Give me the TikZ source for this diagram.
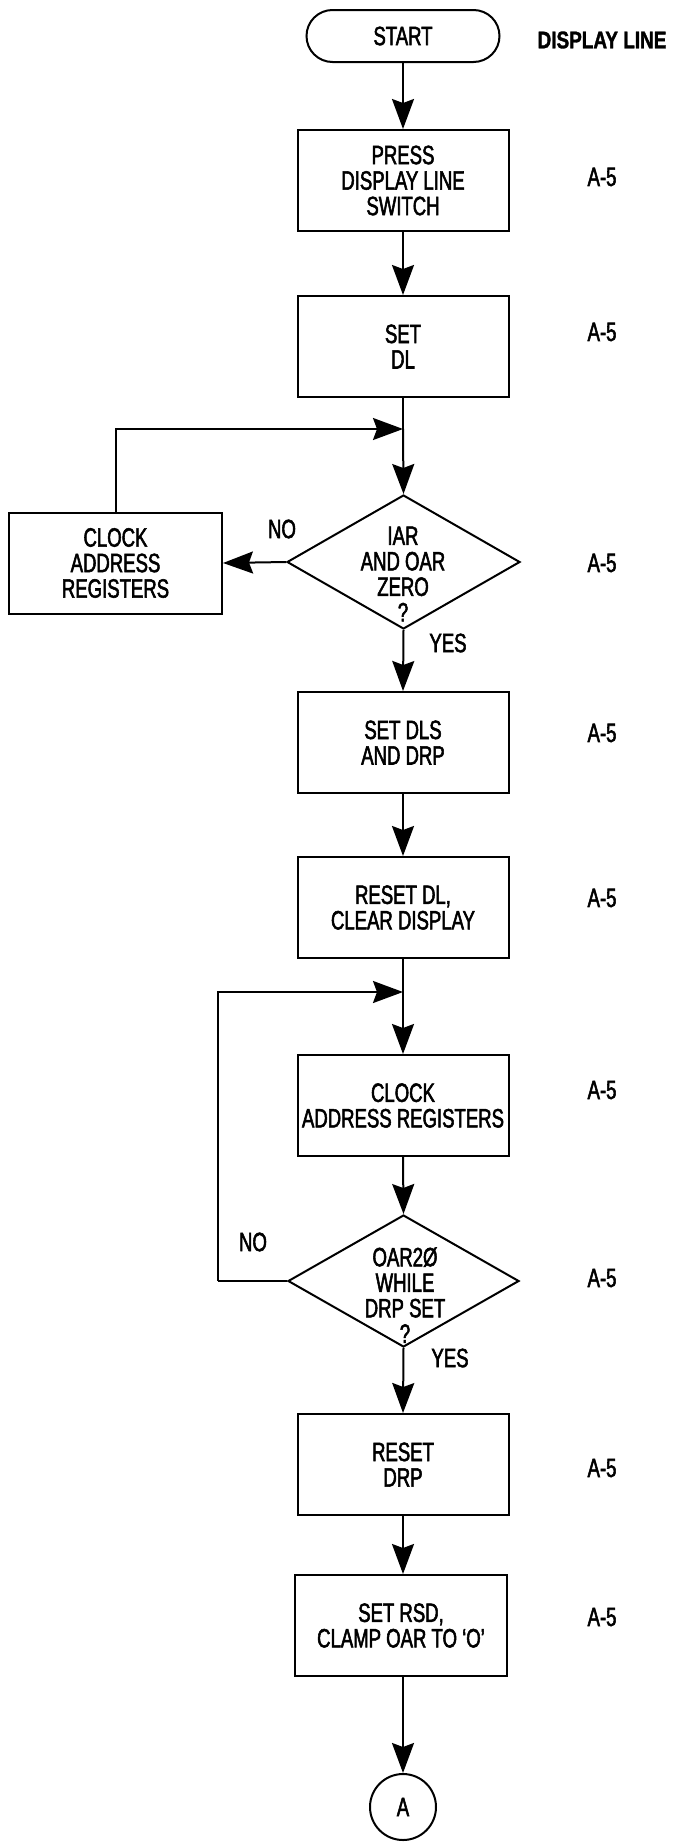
\documentclass[tikz,border=0pt]{standalone}
\usepackage{fontspec}
\setmainfont{Liberation Sans}[FakeStretch=0.7,FakeBold=2]
\newfontfamily\headfont{Liberation Sans}[FakeStretch=0.79,FakeBold=1.5]
\usetikzlibrary{arrows.meta,shapes.geometric,shapes.misc}
\begin{document}
\begin{tikzpicture}[x=1pt,y=-1pt,line width=2pt,
  every node/.style={font=\fontsize{26.5}{25.5}\selectfont,align=center,inner sep=0pt},
  proc/.style={draw,rectangle,minimum width=211pt,minimum height=101pt},
  dec/.style={draw,diamond,minimum width=233pt,minimum height=134pt},
  term/.style={draw,rounded rectangle,minimum width=193pt,minimum height=52pt},
  conn/.style={draw,circle,minimum size=66pt},
  head/.style={font=\headfont\bfseries\fontsize{24}{24}\selectfont},
  flow/.style={-{Stealth[length=30pt,width=22pt,inset=4pt]},line width=2pt},
  plain/.style={line width=2pt}]
\useasboundingbox (0,0) rectangle (674,1842);

\node[term] (start) at (403,36) {START};
\node[head] (title) at (602,40) {DISPLAY LINE};

\node[proc] (press) at (403,180.5) {PRESS\\DISPLAY LINE\\SWITCH};
\node[proc] (setdl) at (403,346.5) {SET\\DL};
\coordinate (j1) at (403,429);
\node[dec] (d1) at (403.5,562) {};
\node (d1t) at (403,574) {IAR\\AND OAR\\ZERO\\?};
\node[proc,minimum width=213pt] (clk1) at (115.5,563) {CLOCK\\ADDRESS\\REGISTERS};
\node[proc] (setdls) at (403,742.5) {SET DLS\\AND DRP};
\node[proc] (rstdl) at (403,907.5) {RESET DL,\\CLEAR DISPLAY};
\coordinate (j2) at (403,992);
\node[proc] (clk2) at (403,1105.5) {CLOCK\\ADDRESS REGISTERS};
\node[dec,minimum width=231pt,minimum height=132pt] (d2) at (403.5,1281) {};
\node (d2t) at (405,1295) {OAR2Ø\\WHILE\\DRP SET\\?};
\coordinate (l2) at (218,1281);
\node[proc] (rstdrp) at (403,1464.5) {RESET\\DRP};
\node[proc,minimum width=212pt] (setrsd) at (401,1625.5) {SET RSD,\\CLAMP OAR TO `O'};
\node[conn] (a) at (403,1807) {A};

% labels
\node (no1) at (282,529) {NO};
\node (yes1) at (448,643) {YES};
\node (no2) at (253,1242) {NO};
\node (yes2) at (450,1358) {YES};
\foreach \yy [count=\i] in {177,332,563,733,898,1090,1278,1468,1617}
  \node (ref\i) at (602,\yy) {A-5};

% connectors
\draw[flow] (start.south) -- (press.north);
\draw[flow] (press.south) -- (setdl.north);
\draw[plain] (setdl.south) -- (j1);
\draw[flow] (j1) -- (d1.north);
\draw[flow] (d1.west) -- (clk1.east);
\draw[flow] (clk1.north) |- (j1);
\draw[flow] (d1.south) -- (setdls.north);
\draw[flow] (setdls.south) -- (rstdl.north);
\draw[plain] (rstdl.south) -- (j2);
\draw[flow] (j2) -- (clk2.north);
\draw[flow] (clk2.south) -- (d2.north);
\draw[plain] (d2.west) -- (l2);
\draw[flow] (l2) |- (j2);
\draw[flow] (d2.south) -- (rstdrp.north);
\draw[flow] (rstdrp.south) -- (setrsd.north -| rstdrp.south);
\draw[flow] (setrsd.south -| a.north) -- (a.north);
\end{tikzpicture}
\end{document}
